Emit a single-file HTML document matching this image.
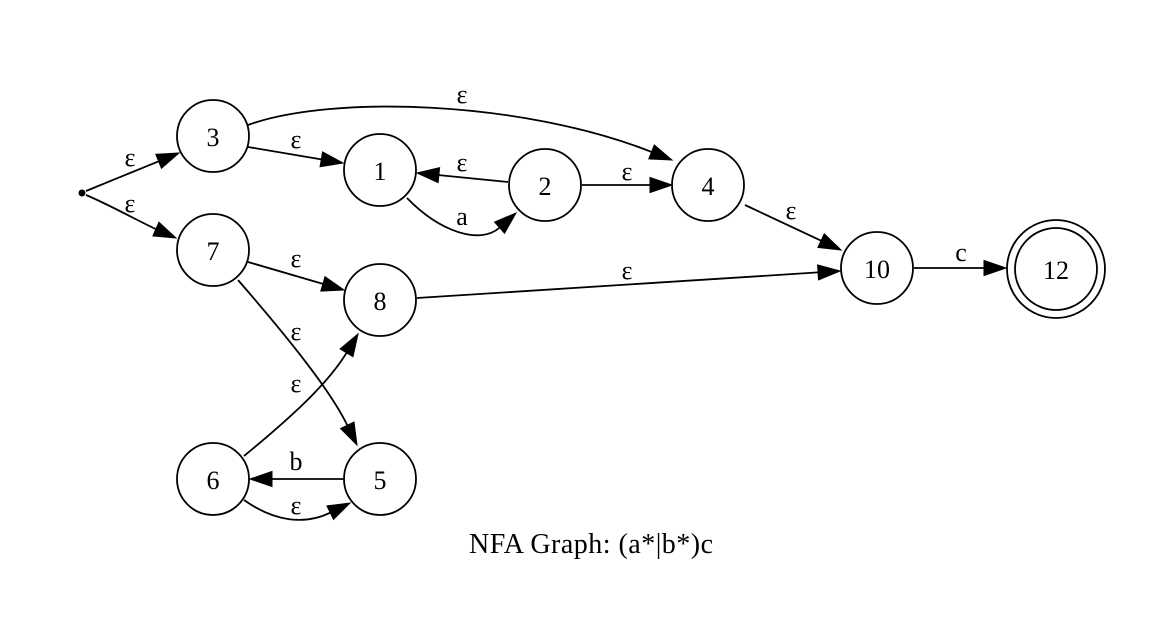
<!DOCTYPE html>
<html><head><meta charset="utf-8"><style>
html,body{margin:0;padding:0;background:#fff;}
svg{display:block;}
text{font-family:"Liberation Serif",serif;fill:#000;}
</style></head><body>
<svg id="g" width="1170" height="635" viewBox="0 0 1170 635" xmlns="http://www.w3.org/2000/svg">
<text x="469" y="553" font-size="28" textLength="244" lengthAdjust="spacing">NFA Graph: (a*|b*)c</text>
</svg>
<script>
const nodeIds = ["3","7","1","2","4","8","10","12","6","5"];
const nodeX = [213,213,380,545,708,380,877,1056,213,380];
const nodeY = [136,250,170,185,185,300,268,269,479,479];
const acceptNodes = ["12"];
const edgeFrom = ["start","start","3","3","2","1","2","4","7","7","8","10","5","6","6"];
const edgeTo   = ["3","7","1","4","1","2","4","10","8","5","10","12","6","5","8"];
const edgeLabels = ["ε","ε","ε","ε","ε","a","ε","ε","ε","ε","ε","c","b","ε","ε"];
const edgePaths = [
 [[86,191],[179,153]],
 [[86,195],[110,205],[140,222],[176,238]],
 [[248,147],[343,163]],
 [[248,125],[330,95],[520,100],[672,160]],
 [[508,182],[417,173]],
 [[407,198],[440,232],[480,245],[516,213]],
 [[582,185],[672,185]],
 [[745,205],[841,250]],
 [[248,262],[344,290]],
 [[238,280],[290,340],[330,390],[357,445]],
 [[417,298],[840,271]],
 [[914,268],[1006,268]],
 [[344,479],[250,479]],
 [[244,500],[275,522],[305,525],[350,503]],
 [[244,456],[300,410],[330,380],[358,334]]
];
const labelPos = [[130,166],[130,212],[296,148],[462,103],[462,171],[462,225],[627,180],[791,219],[296,267],[296,340],[627,279],[961,261],[296,470],[296,514],[296,392]];

const svg=document.getElementById('g');
const NS="http://www.w3.org/2000/svg";
function mk(t,a){const e=document.createElementNS(NS,t);for(const k in a)e.setAttribute(k,a[k]);svg.appendChild(e);return e;}

const sd=mk('circle',{cx:82,cy:193,r:3.5,fill:'#000'});



edgePaths.forEach((p,i)=>{
  const tip=p[p.length-1], prev=p[p.length-2];
  let dx=tip[0]-prev[0], dy=tip[1]-prev[1]; const L=Math.hypot(dx,dy); dx/=L; dy/=L;
  const AL=22, AW=7.5;
  const base=[tip[0]-dx*AL, tip[1]-dy*AL];
  let d;
  if(p.length===2) d=`M${p[0][0]},${p[0][1]} L${base[0]},${base[1]}`;
  else d=`M${p[0][0]},${p[0][1]} C${p[1][0]},${p[1][1]} ${p[2][0]},${p[2][1]} ${base[0]},${base[1]}`;
  const path=mk('path',{d:d,fill:'none',stroke:'#000','stroke-width':1.8});
  
  
  const nx=-dy, ny=dx;
  const pts=[[tip[0],tip[1]],[base[0]+nx*AW,base[1]+ny*AW],[base[0]-nx*AW,base[1]-ny*AW]].map(q=>q.join(',')).join(' ');
  const ah=mk('polygon',{points:pts,fill:'#000',stroke:'#000','stroke-width':1});
  
  
  const t=mk('text',{x:labelPos[i][0],y:labelPos[i][1],'font-size':26,'text-anchor':'middle'});
  t.textContent=edgeLabels[i];
  
  
});

nodeIds.forEach((id,i)=>{
  const acc=acceptNodes.includes(id);
  const c=mk('circle',{cx:nodeX[i],cy:nodeY[i],r:acc?41:36,fill:'#fff',stroke:'#000','stroke-width':1.8});
  
  
  if(acc){
    const o=mk('circle',{cx:nodeX[i],cy:nodeY[i],r:49,fill:'none',stroke:'#000','stroke-width':1.8});
    
    
  }
  const t=mk('text',{x:nodeX[i],y:nodeY[i]+10,'font-size':26,'text-anchor':'middle'});
  t.textContent=id;
  
  
});
</script>
</body></html>
